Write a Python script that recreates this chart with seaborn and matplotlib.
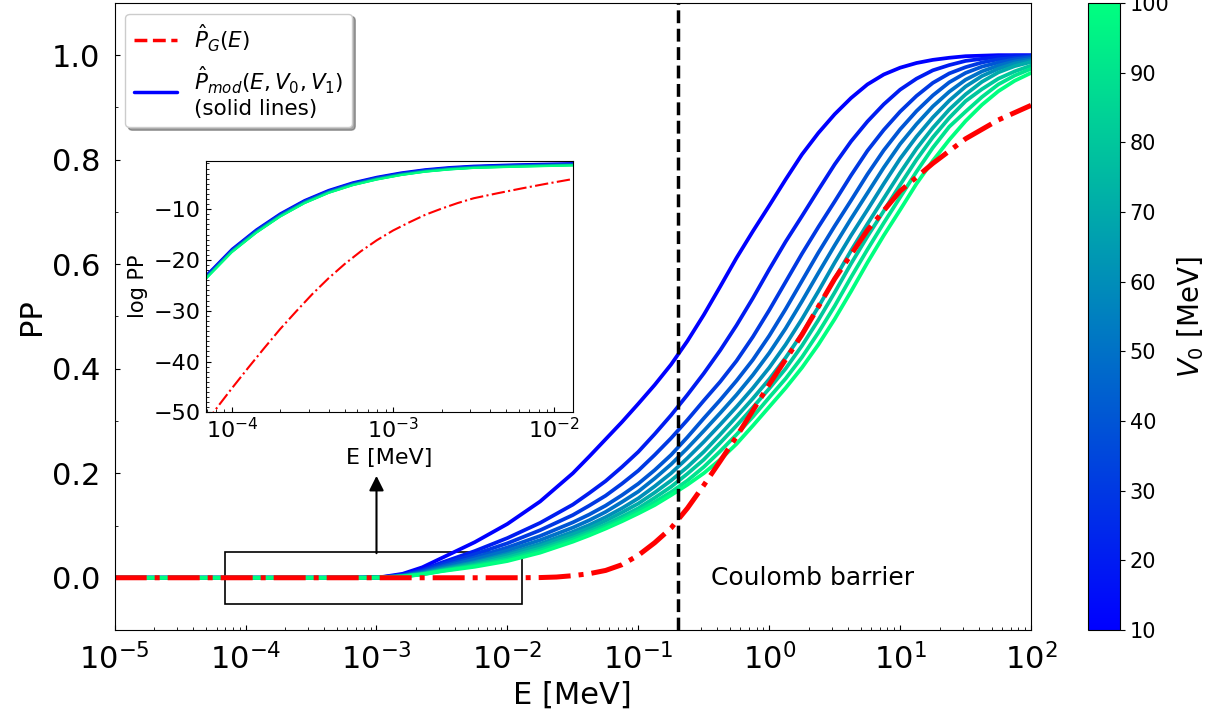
import numpy as np
import pandas as pd
import matplotlib
matplotlib.use("Agg")
import matplotlib.pyplot as plt
import seaborn as sns
from matplotlib.lines import Line2D
from matplotlib.patches import Rectangle
from matplotlib.ticker import MultipleLocator, LogLocator, NullFormatter
from matplotlib.colors import Normalize
from matplotlib.cm import ScalarMappable

# energy grid of the modified-potential curves, log10(E / MeV)
log_energy = [-5.0, -4.16, -4.0, -3.85, -3.7, -3.55, -3.4, -3.25, -3.1, -2.95, -2.8,
              -2.65, -2.5, -2.25, -2.0, -1.75,
              -1.5, -1.375, -1.25, -1.125, -1.0, -0.875, -0.75, -0.625, -0.5,
              -0.375, -0.25, -0.125, 0.0, 0.125, 0.25, 0.375, 0.5,
              0.625, 0.75, 0.875, 1.0, 1.125, 1.25, 1.375, 1.5,
              1.625, 1.75, 1.875, 2.0]

v0_values = [10, 20, 30, 40, 50, 60, 70, 80, 90, 100]

# penetration probability of the modified potential, one series per V0 [MeV]
pp_v10 = [0.0, 1.0e-23, 1.58e-18, 1.0e-14, 1.58e-11, 6.31e-9, 6.31e-7, 2.0e-5, 2.51e-4, 1.78e-3, 7.59e-3,
          0.0200, 0.0380, 0.068, 0.103, 0.146,
          0.200, 0.232, 0.265, 0.298, 0.333, 0.369, 0.408, 0.453, 0.503,
          0.557, 0.612, 0.663, 0.712, 0.762, 0.810, 0.851, 0.887,
          0.918, 0.944, 0.963, 0.976, 0.985, 0.991, 0.995, 0.998,
          0.999, 1.0, 1.0, 1.0]
pp_v20 = [0.0, 6.79e-24, 1.08e-18, 6.79e-15, 1.09e-11, 4.41e-9, 4.48e-7, 1.43e-5, 1.82e-4, 1.31e-3, 5.69e-3,
          0.0151, 0.0292, 0.051, 0.076, 0.105,
          0.140, 0.162, 0.185, 0.212, 0.241, 0.275, 0.311, 0.350, 0.391,
          0.435, 0.483, 0.535, 0.590, 0.643, 0.692, 0.742, 0.791,
          0.835, 0.873, 0.906, 0.934, 0.955, 0.971, 0.981, 0.989,
          0.993, 0.997, 0.999, 0.999]
pp_v30 = [0.0, 5.69e-24, 9.02e-19, 5.69e-15, 9.16e-12, 3.73e-9, 3.83e-7, 1.23e-5, 1.57e-4, 1.14e-3, 4.99e-3,
          0.0133, 0.0258, 0.045, 0.066, 0.091,
          0.120, 0.138, 0.157, 0.180, 0.205, 0.235, 0.267, 0.302, 0.339,
          0.375, 0.415, 0.461, 0.512, 0.566, 0.620, 0.671, 0.720,
          0.770, 0.817, 0.857, 0.892, 0.922, 0.947, 0.965, 0.977,
          0.986, 0.992, 0.995, 0.998]
pp_v40 = [0.0, 4.54e-24, 7.19e-19, 4.54e-15, 7.36e-12, 3.03e-9, 3.13e-7, 1.01e-5, 1.31e-4, 9.55e-4, 4.22e-3,
          0.0114, 0.0221, 0.039, 0.058, 0.080,
          0.106, 0.121, 0.138, 0.158, 0.180, 0.206, 0.235, 0.269, 0.305,
          0.340, 0.377, 0.417, 0.463, 0.514, 0.568, 0.622, 0.673,
          0.722, 0.772, 0.818, 0.858, 0.893, 0.923, 0.948, 0.966,
          0.978, 0.986, 0.992, 0.996]
pp_v50 = [0.0, 3.80e-24, 6.03e-19, 3.80e-15, 6.19e-12, 2.57e-9, 2.68e-7, 8.71e-6, 1.13e-4, 8.32e-4, 3.70e-3,
          0.0100, 0.0196, 0.035, 0.052, 0.072,
          0.096, 0.110, 0.126, 0.145, 0.165, 0.190, 0.217, 0.248, 0.281,
          0.315, 0.350, 0.388, 0.430, 0.477, 0.529, 0.583, 0.636,
          0.687, 0.736, 0.785, 0.830, 0.868, 0.902, 0.930, 0.953,
          0.969, 0.980, 0.988, 0.993]
pp_v60 = [0.0, 3.18e-24, 5.05e-19, 3.18e-15, 5.21e-12, 2.18e-9, 2.29e-7, 7.48e-6, 9.73e-5, 7.24e-4, 3.24e-3,
          0.00881, 0.0173, 0.030, 0.046, 0.065,
          0.088, 0.101, 0.116, 0.133, 0.152, 0.175, 0.200, 0.229, 0.260,
          0.293, 0.327, 0.363, 0.402, 0.446, 0.495, 0.548, 0.603,
          0.655, 0.704, 0.754, 0.802, 0.844, 0.881, 0.913, 0.940,
          0.960, 0.974, 0.984, 0.990]
pp_v70 = [0.0, 2.75e-24, 4.37e-19, 2.75e-15, 4.53e-12, 1.91e-9, 2.01e-7, 6.61e-6, 8.63e-5, 6.46e-4, 2.91e-3,
          0.00794, 0.0157, 0.028, 0.043, 0.061,
          0.083, 0.095, 0.109, 0.125, 0.142, 0.163, 0.186, 0.212, 0.241,
          0.274, 0.308, 0.343, 0.380, 0.421, 0.467, 0.518, 0.572,
          0.626, 0.677, 0.726, 0.775, 0.821, 0.861, 0.896, 0.925,
          0.949, 0.967, 0.979, 0.987]
pp_v80 = [0.0, 2.38e-24, 3.78e-19, 2.38e-15, 3.94e-12, 1.66e-9, 1.77e-7, 5.83e-6, 7.66e-5, 5.75e-4, 2.61e-3,
          0.00716, 0.0142, 0.025, 0.039, 0.056,
          0.077, 0.089, 0.102, 0.117, 0.133, 0.153, 0.174, 0.199, 0.226,
          0.258, 0.291, 0.326, 0.362, 0.400, 0.444, 0.493, 0.546,
          0.601, 0.653, 0.702, 0.752, 0.800, 0.843, 0.880, 0.912,
          0.935, 0.955, 0.969, 0.980]
pp_v90 = [0.0, 2.16e-24, 3.43e-19, 2.16e-15, 3.58e-12, 1.52e-9, 1.63e-7, 5.37e-6, 7.06e-5, 5.33e-4, 2.43e-3,
          0.00668, 0.0133, 0.023, 0.035, 0.052,
          0.073, 0.085, 0.098, 0.112, 0.128, 0.145, 0.164, 0.186, 0.212,
          0.242, 0.274, 0.308, 0.345, 0.381, 0.422, 0.469, 0.520,
          0.575, 0.628, 0.679, 0.728, 0.777, 0.823, 0.863, 0.892,
          0.920, 0.944, 0.961, 0.974]
pp_v100 = [0.0, 2.0e-24, 3.16e-19, 2.0e-15, 3.31e-12, 1.41e-9, 1.51e-7, 5.01e-6, 6.61e-5, 5.01e-4, 2.29e-3,
           0.00631, 0.0126, 0.021, 0.032, 0.048,
           0.069, 0.081, 0.094, 0.108, 0.123, 0.139, 0.158, 0.178, 0.200,
           0.226, 0.256, 0.291, 0.327, 0.363, 0.402, 0.446, 0.495,
           0.548, 0.603, 0.655, 0.704, 0.754, 0.798, 0.838, 0.874,
           0.905, 0.931, 0.951, 0.966]

# Gamow penetration factor on its own energy grid
log_energy_g = [-5.0, -4.16, -4.08, -4.0, -3.9, -3.8, -3.7, -3.6, -3.5, -3.4, -3.3, -3.2,
                -3.1, -3.0, -2.9, -2.8, -2.7, -2.6, -2.5, -2.35, -2.2, -2.05, -1.9, -1.75,
                -1.625, -1.5, -1.375, -1.25, -1.125, -1.0, -0.875, -0.75, -0.625, -0.5,
                -0.375, -0.25, -0.125, 0.0, 0.25, 0.5, 0.75, 1.0, 1.25, 1.5, 1.75, 2.0]
pg = [0.0, 1.0e-52, 2.51e-49, 5.01e-46, 5.01e-42, 3.98e-38, 2.51e-34, 7.94e-31, 2.0e-27, 2.51e-24,
      1.58e-21, 5.01e-19, 7.94e-17, 6.31e-15, 2.51e-13, 7.94e-12, 1.26e-10, 1.58e-9, 1.41e-8,
      1.41e-7, 1.26e-6, 1.0e-5, 7.08e-5, 3.98e-4,
      0.0014, 0.004, 0.0078, 0.014, 0.025, 0.043, 0.067, 0.095, 0.133, 0.177,
      0.223, 0.270, 0.320, 0.370, 0.465, 0.572, 0.665, 0.740, 0.793, 0.840, 0.876, 0.904]

coulomb_barrier = 0.2          # MeV
zoom_box = (10 ** -4.16, 1.3e-2, -0.05, 0.05)

sns.set_style("ticks", {"axes.edgecolor": "black", "xtick.color": "black",
                        "ytick.color": "black", "text.color": "black",
                        "axes.labelcolor": "black"})
plt.rcParams["font.family"] = ["DejaVu Sans"]
plt.rcParams["mathtext.fontset"] = "dejavusans"

energy = 10 ** np.array(log_energy)
series = [pp_v10, pp_v20, pp_v30, pp_v40, pp_v50, pp_v60, pp_v70, pp_v80, pp_v90, pp_v100]
df = pd.concat([pd.DataFrame({"E": energy, "PP": vals, "V0": v0})
                for v0, vals in zip(v0_values, series)], ignore_index=True)
df_g = pd.DataFrame({"E": 10 ** np.array(log_energy_g), "PP": pg})

fig = plt.figure(figsize=(12.16, 7.26), dpi=100)
ax = fig.add_axes([0.0943, 0.1322, 0.7536, 0.8638])
ax.set_xscale("log")

sns.lineplot(data=df, x="E", y="PP", hue="V0", palette="winter", hue_norm=(10, 100),
             lw=2.7, estimator=None, sort=False, legend=False, ax=ax)
sns.lineplot(data=df_g, x="E", y="PP", color="red", linestyle="-.", lw=3.6,
             estimator=None, sort=False, ax=ax)

ax.axvline(coulomb_barrier, color="black", linestyle="--", lw=2.5)
x0, x1, y0, y1 = zoom_box
ax.add_patch(Rectangle((x0, y0), x1 - x0, y1 - y0, fill=False, ec="black", lw=1.2))
ax.annotate("", xy=(1e-3, 0.195), xytext=(1e-3, 0.047),
            arrowprops=dict(arrowstyle="-|>", color="black", lw=1.5,
                            mutation_scale=22, shrinkA=0, shrinkB=0))
ax.text(0.36, 0.0, "Coulomb barrier", fontsize=18, va="center", ha="left")

ax.set_xlim(1e-5, 1e2)
ax.set_ylim(-0.1, 1.1)
ax.set_yticks(np.arange(0, 1.01, 0.2))
ax.yaxis.set_minor_locator(MultipleLocator(0.1))
ax.xaxis.set_minor_locator(LogLocator(base=10, subs=np.arange(2, 10), numticks=100))
ax.xaxis.set_minor_formatter(NullFormatter())
ax.tick_params(which="both", direction="in", labelsize=22)
ax.tick_params(axis="y", which="major", pad=10.5)
ax.tick_params(axis="x", which="major", pad=9)
ax.set_xlabel("E [MeV]", fontsize=22)
ax.set_ylabel("PP", fontsize=22)

handles = [Line2D([0], [0], color="red", linestyle="--", lw=2.5),
           Line2D([0], [0], color="blue", lw=2.5)]
labels = [r"$\hat{P}_G(E)$", r"$\hat{P}_{mod}(E,V_0,V_1)$" + "\n(solid lines)"]
ax.legend(handles, labels, loc="upper left", fontsize=15.5, shadow=True, fancybox=True)

# inset: logarithm of the same probabilities at low energy
ins = fig.add_axes([0.1694, 0.4321, 0.3016, 0.3466])
ins.set_xscale("log")
df_log = df[df["PP"] > 0].assign(logPP=lambda d: np.log10(d["PP"]))
df_glog = df_g[df_g["PP"] > 0].assign(logPP=lambda d: np.log10(d["PP"]))
sns.lineplot(data=df_log, x="E", y="logPP", hue="V0", palette="winter", hue_norm=(10, 100),
             lw=1.4, estimator=None, sort=False, legend=False, ax=ins)
sns.lineplot(data=df_glog, x="E", y="logPP", color="red", linestyle="-.", lw=1.5,
             estimator=None, sort=False, ax=ins)
ins.set_xlim(x0, x1)
ins.set_ylim(-50, -0.45)
ins.set_yticks([-50, -40, -30, -20, -10])
ins.yaxis.set_minor_locator(MultipleLocator(1))
ins.xaxis.set_minor_locator(LogLocator(base=10, subs=np.arange(2, 10), numticks=100))
ins.xaxis.set_minor_formatter(NullFormatter())
ins.tick_params(which="both", direction="in", labelsize=16)
ins.set_xlabel("E [MeV]", fontsize=16)
ins.set_ylabel("log PP", fontsize=15)

cax = fig.add_axes([0.895, 0.1322, 0.026, 0.8638])
cb = fig.colorbar(ScalarMappable(norm=Normalize(10, 100), cmap="winter"), cax=cax,
                  ticks=np.arange(10, 101, 10))
cb.ax.tick_params(labelsize=15)
cb.set_label(r"$V_0$ [MeV]", fontsize=20)

fig.savefig("out.png", dpi=100)
